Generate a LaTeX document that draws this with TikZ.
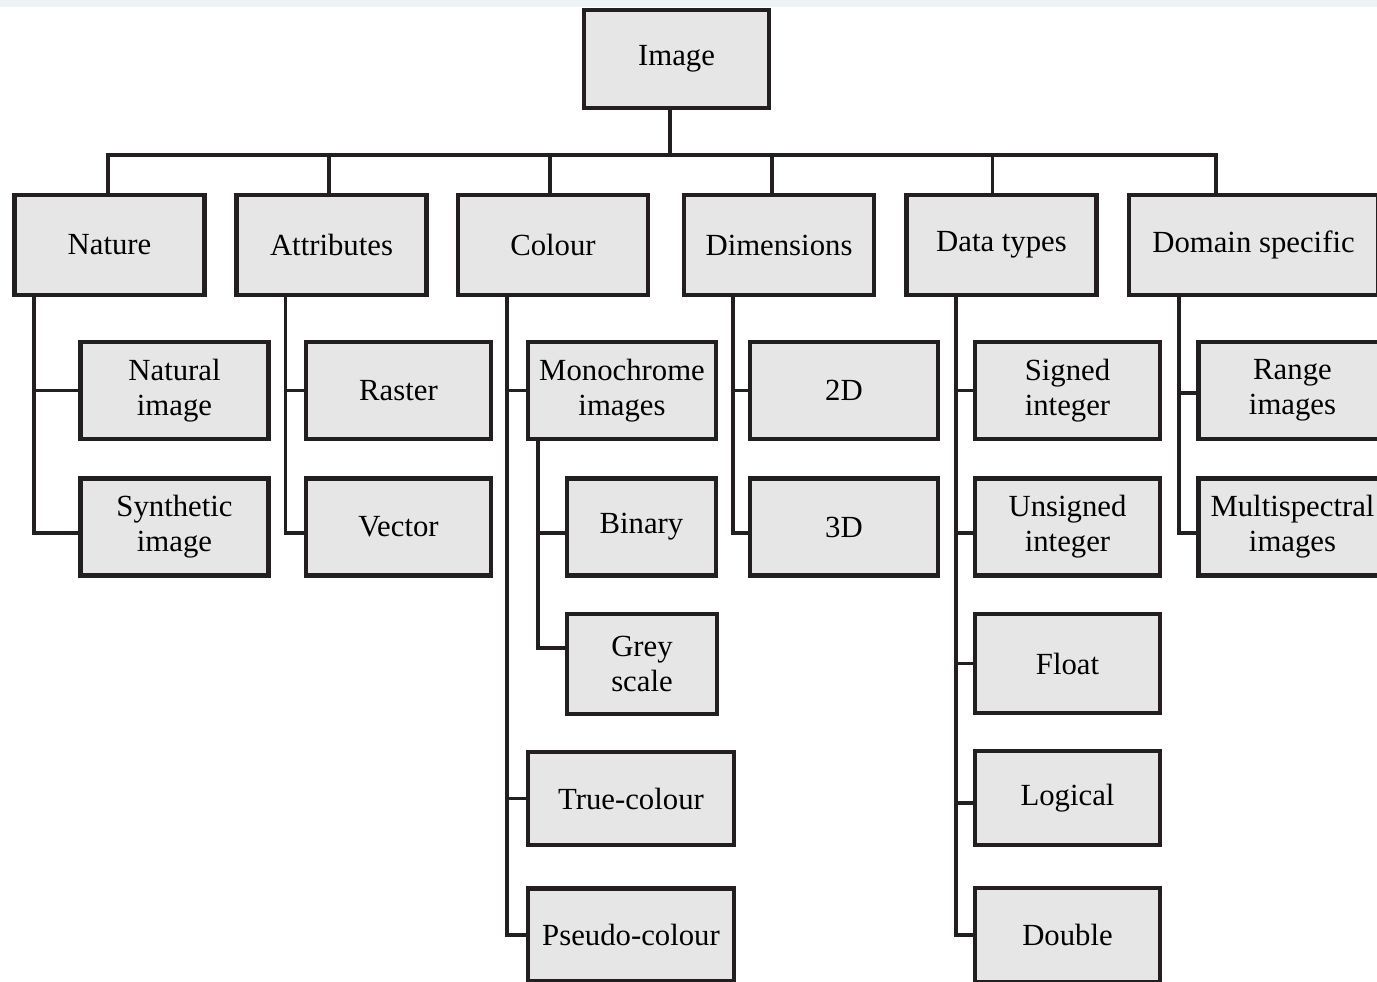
\documentclass[tikz,border=0pt]{standalone}
\usepackage{fontspec}
\setmainfont{Liberation Serif}
\usepackage{xcolor}
\usepackage{tikz}
\usetikzlibrary{positioning, calc}
\definecolor{boxgray}{HTML}{E6E6E6}
\definecolor{linegray}{HTML}{231F20}
\definecolor{topband}{HTML}{EEF3F7}

\begin{document}
\begin{tikzpicture}[
      x=0.02cm, y=-0.02cm,
      box/.style={rectangle, draw=linegray, fill=boxgray, line width=2.4pt, inner sep=0pt, align=center, font=\fontsize{17.5}{19.8}\selectfont},
      topbox/.style={box, minimum width=3.8cm, minimum height=2cm},
      leaf/.style={box, minimum width=3.76cm, minimum height=1.94cm},
      conn/.style={draw=linegray, line width=2pt}
    ]
      \clip (0,0) rectangle (1377,982);
      \fill[topband] (0,0) rectangle (1377,7);

      % root and first level
      \node[box, minimum width=3.7cm, minimum height=1.96cm] (img) at (676.5,59) {Image};
      \node[topbox] (nature) at (109.5,245) {Nature};
      \node[topbox] (attr) at (331.5,245) {Attributes};
      \node[topbox] (colour) at (553,245) {Colour};
      \node[topbox] (dims) at (779,245) {Dimensions};
      \node[topbox] (dtypes) at (1001.5,245) {Data types};
      \node[topbox, minimum width=4.98cm] (domain) at (1253.5,245) {Domain specific};

      % second level
      \node[leaf] (natural) at (174.5,390.5) {Natural\\image};
      \node[leaf] (synth) at (174.5,527) {Synthetic\\image};
      \node[leaf, minimum width=3.7cm] (raster) at (398.5,390.5) {Raster};
      \node[leaf, minimum width=3.7cm] (vector) at (398.5,527) {Vector};
      \node[leaf] (mono) at (622,390.5) {Monochrome\\images};
      \node[leaf, minimum width=2.98cm] (binary) at (641.5,527) {Binary};
      \node[leaf, minimum width=3cm, minimum height=2cm] (grey) at (642,664) {Grey\\scale};
      \node[leaf, minimum width=4.12cm, minimum height=1.86cm] (truec) at (631,798.5) {True-colour};
      \node[leaf, minimum width=4.12cm, minimum height=1.86cm] (pseudo) at (631,935) {Pseudo-colour};
      \node[leaf] (d2) at (844,390.5) {2D};
      \node[leaf] (d3) at (844,527) {3D};
      \node[leaf, minimum width=3.7cm] (signed) at (1067.5,390.5) {Signed\\integer};
      \node[leaf, minimum width=3.7cm] (unsigned) at (1067.5,527) {Unsigned\\integer};
      \node[leaf, minimum width=3.7cm, minimum height=1.98cm] (float) at (1067.5,663.5) {Float};
      \node[leaf, minimum width=3.7cm, minimum height=1.88cm] (logical) at (1067.5,798) {Logical};
      \node[leaf, minimum width=3.7cm, minimum height=1.88cm] (double) at (1067.5,935) {Double};
      \node[leaf] (range) at (1292.5,390.5) {Range\\images};
      \node[leaf] (multi) at (1292.5,527) {Multispectral\\images};

      % connectors
      \coordinate (bus) at (0,155);
      \foreach \n/\s in {nature/1.91, attr/1.89, colour/1.88, dims/1.8, dtypes/1.76, domain/1.78} {
        \coordinate (\n-top) at ([xshift=\s cm]\n.north west);
        \draw[conn] ([xshift=-0.13cm]img.south) |- (bus -| \n-top) -- (\n-top);
      }

      \draw[conn] ([xshift=0.43cm]nature.south west) |- (natural.west);
      \draw[conn] ([xshift=0.43cm]nature.south west) |- ([yshift=-0.12cm]synth.west);
      \draw[conn] ([xshift=1.02cm]attr.south west) |- (raster.west);
      \draw[conn] ([xshift=1.02cm]attr.south west) |- ([yshift=-0.12cm]vector.west);
      \foreach \c in {mono, truec, pseudo}
        \draw[conn] ([xshift=1.02cm]colour.south west) |- (\c.west);
      \draw[conn] ([xshift=0.24cm]mono.south west) |- ([yshift=-0.12cm]binary.west);
      \draw[conn] ([xshift=0.24cm]mono.south west) |- ([yshift=0.32cm]grey.west);
      \draw[conn] ([xshift=1.02cm]dims.south west) |- (d2.west);
      \draw[conn] ([xshift=1.02cm]dims.south west) |- ([yshift=-0.12cm]d3.west);
      \foreach \c in {signed, float, double}
        \draw[conn] ([xshift=1.03cm]dtypes.south west) |- (\c.west);
      \draw[conn] ([xshift=1.03cm]dtypes.south west) |- ([yshift=-0.12cm]unsigned.west);
      \draw[conn] ([xshift=1.03cm]dtypes.south west) |- ([yshift=-0.1cm]logical.west);
      \draw[conn] ([xshift=1.04cm]domain.south west) |- ([yshift=-0.05cm]range.west);
      \draw[conn] ([xshift=1.04cm]domain.south west) |- ([yshift=-0.12cm]multi.west);
    \end{tikzpicture}
\end{document}
